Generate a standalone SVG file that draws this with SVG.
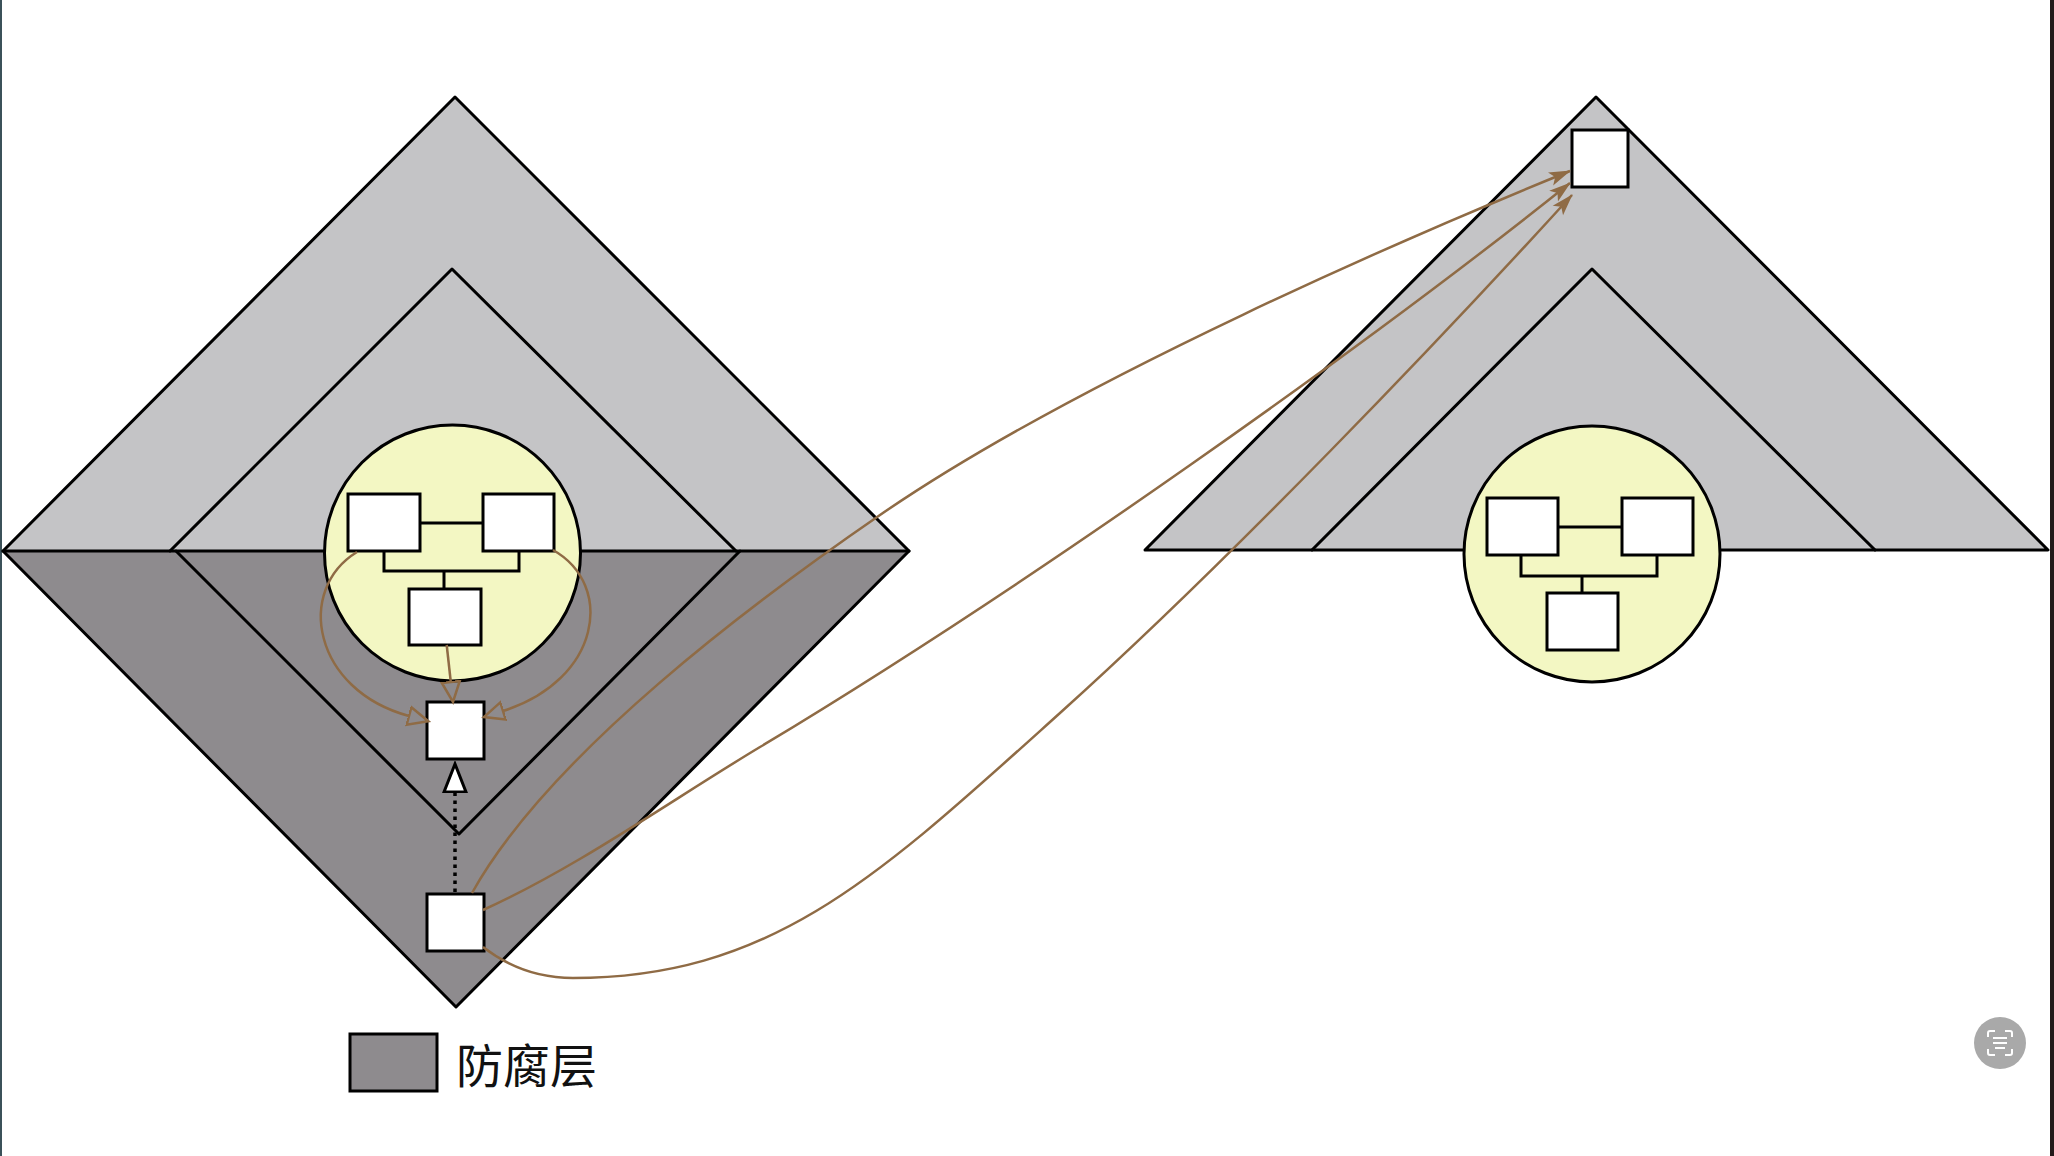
<svg xmlns="http://www.w3.org/2000/svg" width="2054" height="1156" viewBox="0 0 2054 1156">
  <style>
    .light { fill: #c4c4c6; }
    .dark { fill: #8e8b8e; }
    .edge { fill: none; stroke: #000; stroke-width: 3; stroke-linejoin: round; stroke-linecap: round; }
    .bubble { fill: #f3f7c3; stroke: #000; stroke-width: 3; }
    .box { fill: #fff; stroke: #000; stroke-width: 3; }
    .wire { fill: none; stroke: #000; stroke-width: 3; }
    .dep { fill: none; stroke: #8f6b45; stroke-width: 2.5; }
    .label { font-family: "Noto Sans CJK SC", "Noto Sans", sans-serif; font-size: 47px; fill: #111; }
  </style>
  <defs>
    <marker id="openBrown" markerUnits="userSpaceOnUse" markerWidth="24" markerHeight="24" refX="1" refY="11" orient="auto">
      <path d="M1,2 L21,11 L1,20 Z" fill="none" stroke="#8f6b45" stroke-width="2.5"/>
    </marker>
    <marker id="openBlack" markerUnits="userSpaceOnUse" markerWidth="32" markerHeight="26" refX="1" refY="13" orient="auto">
      <path d="M1,2 L29,13 L1,24 Z" fill="#fff" stroke="#000" stroke-width="3"/>
    </marker>
    <marker id="solidBrown" markerUnits="userSpaceOnUse" markerWidth="24" markerHeight="16" refX="21" refY="8" orient="auto">
      <path d="M0,1 L22,8 L0,15 L5,8 Z" fill="#8f6b45"/>
    </marker>
  </defs>

  <rect x="0" y="0" width="2054" height="1156" fill="#fff"/>
  <rect x="0" y="0" width="2" height="1156" fill="#3b5159"/>
  <rect x="2050" y="0" width="4" height="1156" fill="#231a1a"/>

  <g id="left-hexagon">
    <polygon class="light" points="3,551 455,97 909,551"/>
    <polygon class="dark" points="3,551 456,1007 909,551"/>
    <polyline class="edge" points="170,551 452,269 736,551"/>
    <polyline class="edge" points="176,551 459,834 740,551"/>
    <polygon class="edge" points="3,551 455,97 909,551 456,1007"/>
    <line class="edge" x1="3" y1="551" x2="909" y2="551"/>
  </g>

  <g id="right-hexagon">
    <polygon class="light" points="1145,550 1596,97 2048,550"/>
    <polyline class="edge" points="1312,550 1592,269 1875,550"/>
    <polygon class="edge" points="1145,550 1596,97 2048,550"/>
  </g>

  <g id="left-domain">
    <circle class="bubble" cx="452.5" cy="553" r="128"/>
    <line class="wire" x1="420" y1="523" x2="483" y2="523"/>
    <polyline class="wire" points="384,551 384,571 519,571 519,551"/>
    <line class="wire" x1="444" y1="571" x2="444" y2="589"/>
    <rect class="box" x="348" y="494" width="72" height="57"/>
    <rect class="box" x="483" y="494" width="71" height="57"/>
    <rect class="box" x="409" y="589" width="72" height="56"/>
  </g>

  <g id="right-domain">
    <circle class="bubble" cx="1592" cy="554" r="128"/>
    <line class="wire" x1="1558" y1="527" x2="1622" y2="527"/>
    <polyline class="wire" points="1521,555 1521,576 1657,576 1657,555"/>
    <line class="wire" x1="1582" y1="576" x2="1582" y2="593"/>
    <rect class="box" x="1487" y="498" width="71" height="57"/>
    <rect class="box" x="1622" y="498" width="71" height="57"/>
    <rect class="box" x="1547" y="593" width="71" height="57"/>
  </g>

  <g id="left-service">
    <rect class="box" x="427" y="702" width="57" height="57"/>
  </g>
  <g id="left-acl">
    <rect class="box" x="427" y="894" width="57" height="57"/>
  </g>
  <g id="right-service">
    <rect class="box" x="1572" y="130" width="56" height="57"/>
  </g>

  <g id="connectors">
    <path class="dep" d="M357,552 C295,590 313,690 409,716" marker-end="url(#openBrown)"/>
    <path class="dep" d="M553,550 C615,585 601,680 503,711" marker-end="url(#openBrown)"/>
    <path class="dep" d="M446.7,645 L450.8,682" marker-end="url(#openBrown)"/>
    <line x1="455" y1="892" x2="455" y2="792" stroke="#000" stroke-width="3.5" stroke-dasharray="3.5,4.5" marker-end="url(#openBlack)"/>
    <path class="dep" d="M472,893 C550,753 756.5,600 880,515 C1077.5,378.7 1420,232 1570,171" marker-end="url(#solidBrown)"/>
    <path class="dep" d="M483,910 C578,867 670,801 760,747 C1030,585 1370,343 1570,183" marker-end="url(#solidBrown)"/>
    <path class="dep" d="M483,947 C510,968 540,978 573,978 C773,978 880,875 1060,713 C1230,560 1440,340 1572,195" marker-end="url(#solidBrown)"/>
  </g>

  <g id="legend">
    <rect x="350" y="1034" width="87" height="57" fill="#8e8b8e" stroke="#000" stroke-width="3"/>
    <text class="label" x="456" y="1083">防腐层</text>
  </g>

  <g id="scan-button">
    <circle cx="2000" cy="1043" r="26" fill="#a9a9a9"/>
    <path d="M1988,1037 v-4 a2,2 0 0 1 2,-2 h5 M2005,1031 h5 a2,2 0 0 1 2,2 v4 M2012,1049 v4 a2,2 0 0 1 -2,2 h-5 M1995,1055 h-5 a2,2 0 0 1 -2,-2 v-4" fill="none" stroke="#fff" stroke-width="2"/>
    <path d="M1993,1038 h14 M1993,1043 h14 M1995,1048 h10" fill="none" stroke="#fff" stroke-width="2"/>
  </g>
</svg>
